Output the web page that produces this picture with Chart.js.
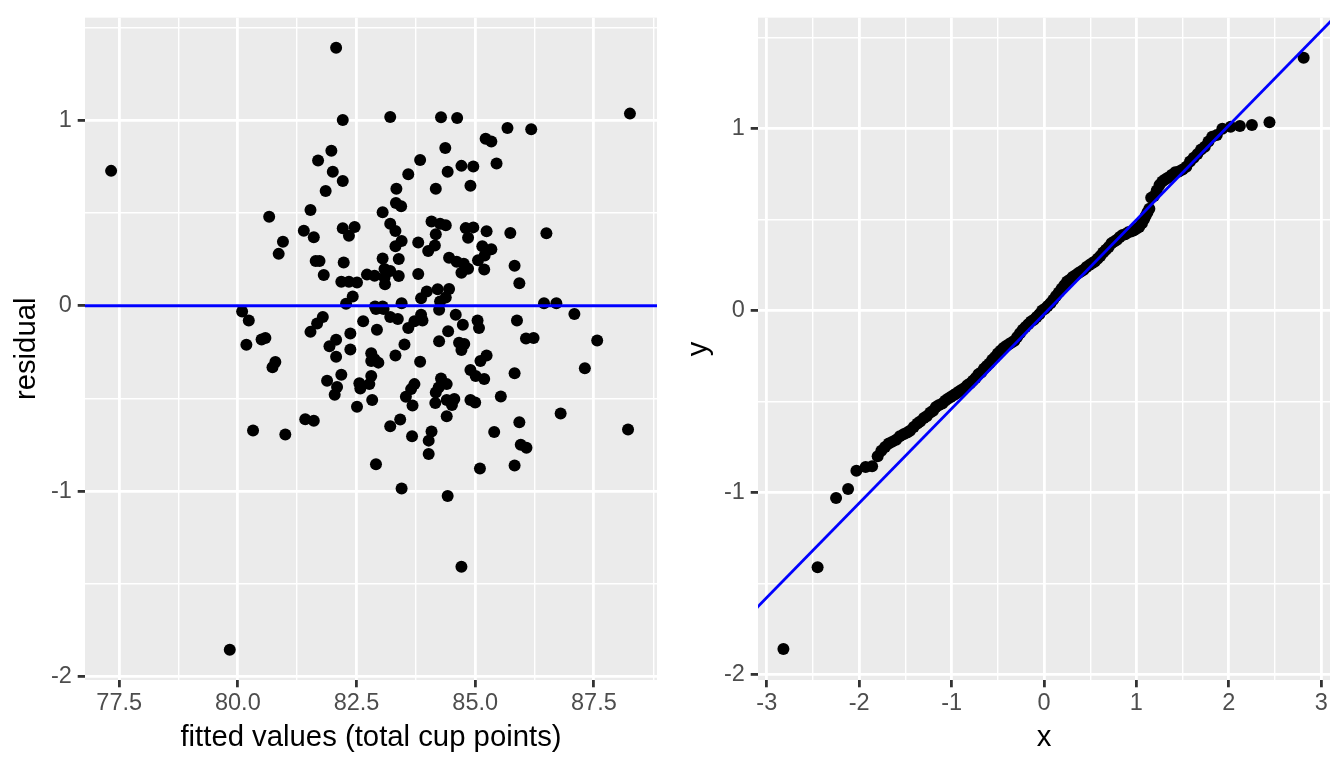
<!DOCTYPE html>
<html>
<head>
<meta charset="utf-8">
<script src="https://cdn.jsdelivr.net/npm/chart.js@4.4.1/dist/chart.umd.min.js"></script>
<style>
  body { margin: 0; background: #ffffff; }
  #wrap { position: relative; width: 1344px; height: 768px; }
  canvas { position: absolute; top: 0; }
  #canvasResid { left: 0; }
  #canvasQQ { left: 672px; }
</style>
</head>
<body>
<div id="wrap">
  <canvas id="canvasResid" width="672" height="768"></canvas>
  <canvas id="canvasQQ" width="672" height="768"></canvas>
</div>
<script>
// residuals vs fitted
var fittedValues = [
  82.07, 82.21, 77.33, 81.97, 81.69, 82.00, 82.21, 81.85, 81.53, 80.66,
  81.39, 81.60, 82.21, 82.46, 82.34, 80.95, 80.86, 81.64, 81.72, 82.23,
  81.81, 82.72, 82.18, 82.34, 82.51, 82.88, 82.42, 82.28, 82.89, 80.09,
  83.21, 84.28, 84.62, 88.26, 85.68, 86.18, 85.22, 85.34, 84.37, 83.84,
  84.71, 84.96, 85.45, 83.59, 84.42, 83.34, 84.17, 84.90, 83.33, 83.44,
  83.05, 83.21, 83.32, 84.08, 84.26, 84.38, 84.80, 84.96, 85.24, 85.74,
  86.50, 84.17, 84.85, 83.45, 83.32, 83.80, 84.15, 84.01, 85.15, 85.34,
  83.05, 83.39, 84.45, 84.61, 84.76, 85.06, 85.20, 84.85, 84.71, 85.19,
  85.83, 83.09, 83.21, 83.09, 83.10, 83.39, 83.80, 85.93, 83.98, 84.21,
  84.45, 83.86, 84.38, 84.26, 83.45, 83.05, 86.45, 86.71,
  80.23, 81.79, 81.67, 81.53, 82.64, 82.37, 80.50, 80.58, 80.18, 82.07,
  81.93, 82.37, 82.07, 80.79, 80.73, 82.18, 81.88, 82.56, 82.58, 82.09,
  82.04, 82.51, 81.42, 81.60, 80.32, 81.00,
  82.91, 83.07, 84.24, 83.21, 83.37, 83.86, 83.89, 83.72, 83.59, 84.59,
  84.74, 85.05, 85.08, 85.88, 87.09, 82.93, 84.43, 86.07, 86.23, 87.57,
  84.24, 83.51, 84.66, 84.77, 84.71, 82.81, 82.88, 82.96, 82.81, 83.32,
  83.84, 85.24, 85.11, 87.31, 84.90, 85.01, 85.19, 85.83, 82.81, 82.77,
  84.28, 84.40, 84.23, 84.17, 83.72, 83.65, 83.54, 83.68, 82.83, 84.16,
  84.40, 84.56, 84.51, 84.90, 85.00, 85.54, 86.80, 84.40, 83.42, 83.21,
  85.93, 84.08, 84.02, 83.67, 85.40, 88.22, 85.96, 86.08, 84.02, 82.91,
  85.10, 85.83, 83.45, 84.42, 84.71, 79.83
];
var residuals = [
  1.393, 1.003, 0.728, 0.836, 0.784, 0.723, 0.673, 0.619, 0.517, 0.480,
  0.405, 0.370, 0.418, 0.425, 0.378, 0.346, 0.280, 0.241, 0.241, 0.234,
  0.166, 0.168, 0.129, 0.129, 0.125, 0.162, 0.050, 0.011, -0.004, -0.031,
  1.019, 1.018, 1.014, 1.037, 0.959, 0.953, 0.901, 0.887, 0.852, 0.787,
  0.755, 0.751, 0.768, 0.710, 0.723, 0.632, 0.632, 0.648, 0.555, 0.537,
  0.505, 0.442, 0.403, 0.455, 0.442, 0.434, 0.419, 0.423, 0.402, 0.393,
  0.391, 0.386, 0.367, 0.350, 0.321, 0.341, 0.325, 0.295, 0.321, 0.305,
  0.255, 0.252, 0.259, 0.237, 0.227, 0.246, 0.271, 0.200, 0.178, 0.196,
  0.216, 0.198, 0.187, 0.152, 0.116, 0.161, 0.171, 0.121, 0.077, 0.089,
  0.091, 0.041, 0.044, 0.023, 0.014, -0.004, 0.014, 0.014,
  -0.080, -0.061, -0.096, -0.141, -0.084, -0.150, -0.182, -0.174, -0.211, -0.184,
  -0.218, -0.236, -0.275, -0.304, -0.332, -0.372, -0.405, -0.418, -0.447, -0.438,
  -0.480, -0.545, -0.613, -0.621, -0.673, -0.695,
  -0.018, -0.018, -0.021, -0.061, -0.072, -0.048, -0.080, -0.084, -0.120, -0.048,
  -0.102, -0.080, -0.120, -0.079, -0.045, -0.129, -0.138, -0.177, -0.174, -0.187,
  -0.191, -0.209, -0.200, -0.206, -0.239, -0.257, -0.289, -0.307, -0.298, -0.268,
  -0.302, -0.268, -0.298, -0.337, -0.347, -0.379, -0.396, -0.364, -0.379, -0.423,
  -0.393, -0.423, -0.441, -0.468, -0.423, -0.450, -0.491, -0.539, -0.509, -0.525,
  -0.509, -0.503, -0.536, -0.509, -0.522, -0.490, -0.581, -0.597, -0.614, -0.650,
  -0.629, -0.679, -0.728, -0.704, -0.682, -0.668, -0.750, -0.766, -0.800, -0.855,
  -0.878, -0.862, -0.986, -1.027, -1.409, -1.857
];

// normal QQ plot
var qqTheoretical = [
  -2.82, -2.45, -2.25, -2.12, -2.03, -1.93, -1.86,
  -1.80, -1.76, -1.72, -1.68, -1.64, -1.60, -1.56, -1.52, -1.48,
  -1.45, -1.41, -1.37, -1.34, -1.30, -1.27, -1.23, -1.20, -1.17, -1.14,
  -1.10, -1.07, -1.04, -1.01, -0.98, -0.95, -0.92, -0.89, -0.86, -0.83,
  -0.80, -0.77, -0.74, -0.71, -0.68, -0.65, -0.62, -0.59, -0.56, -0.53,
  -0.50, -0.47, -0.44, -0.41, -0.38, -0.35, -0.32, -0.29, -0.26, -0.23,
  -0.20, -0.17, -0.14, -0.11, -0.08, -0.05, -0.02, 0.01, 0.04, 0.07,
  0.10, 0.13, 0.16, 0.19, 0.22, 0.25, 0.28, 0.31, 0.34, 0.37,
  0.40, 0.43, 0.46, 0.49, 0.52, 0.55, 0.58, 0.61, 0.64, 0.67,
  0.70, 0.73, 0.76, 0.79, 0.82, 0.85, 0.88, 0.91, 0.94, 0.97,
  1.00, 1.03, 1.06, 1.08, 1.10, 1.12, 1.14, 1.16, 1.19, 1.22,
  1.25, 1.28, 1.31, 1.34, 1.38, 1.42, 1.46, 1.50, 1.54, 1.58,
  1.62, 1.66, 1.70, 1.74, 1.78, 1.82, 1.87, 1.93, 2.02, 2.12,
  2.25, 2.44, 2.81
];
var qqSample = [
  -1.86, -1.41, -1.03, -0.98, -0.88, -0.86, -0.855,
  -0.80, -0.77, -0.75, -0.73, -0.72, -0.71, -0.69, -0.68, -0.67,
  -0.66, -0.64, -0.62, -0.61, -0.59, -0.58, -0.56, -0.55, -0.53, -0.52,
  -0.51, -0.495, -0.485, -0.475, -0.465, -0.455, -0.445, -0.435, -0.425, -0.41,
  -0.40, -0.385, -0.37, -0.35, -0.34, -0.32, -0.305, -0.29, -0.27, -0.255,
  -0.235, -0.22, -0.205, -0.195, -0.185, -0.175, -0.165, -0.145, -0.125, -0.105,
  -0.09, -0.075, -0.06, -0.05, -0.035, -0.02, 0.00, 0.01, 0.025, 0.04,
  0.06, 0.08, 0.10, 0.12, 0.14, 0.16, 0.17, 0.185, 0.195, 0.205,
  0.215, 0.225, 0.24, 0.25, 0.26, 0.27, 0.285, 0.30, 0.32, 0.335,
  0.35, 0.37, 0.38, 0.39, 0.405, 0.415, 0.42, 0.43, 0.435, 0.44,
  0.45, 0.46, 0.48, 0.50, 0.52, 0.54, 0.56, 0.62, 0.63, 0.66,
  0.69, 0.71, 0.72, 0.73, 0.745, 0.76, 0.765, 0.775, 0.79, 0.82,
  0.84, 0.86, 0.885, 0.90, 0.93, 0.955, 0.965, 1.00, 1.01, 1.015,
  1.02, 1.035, 1.39
];

// reference lines
var zeroLineX = [76, 90];
var zeroLineY = [0, 0];
var qqLineX = [-3.2, 3.2];
var qqLineY = [-1.68, 1.64];

// tick positions (major + minor grid)
var residXTicks = [77.5, 78.75, 80, 81.25, 82.5, 83.75, 85, 86.25, 87.5, 88.75];
var residYTicks = [-2, -1.5, -1, -0.5, 0, 0.5, 1, 1.5];
var qqXTicks = [-3, -2.5, -2, -1.5, -1, -0.5, 0, 0.5, 1, 1.5, 2, 2.5, 3];
var qqYTicks = [-2, -1.5, -1, -0.5, 0, 0.5, 1, 1.5];

var FONT = '"Liberation Sans", Arial, Helvetica, sans-serif';

function toPoints(xs, ys) {
    var pts = [];
    for (var i = 0; i < xs.length; i++) {
        pts.push({x: xs[i], y: ys[i]});
    }
    return pts;
}

function isMajor(v, step) {
    var r = v / step;
    return Math.abs(r - Math.round(r)) < 1e-6;
}

var panelBg = {
    id: 'panelBg',
    beforeDraw: function(chart) {
        var a = chart.chartArea;
        var ctx = chart.ctx;
        ctx.save();
        ctx.fillStyle = '#EBEBEB';
        ctx.fillRect(a.left, a.top, a.right - a.left, a.bottom - a.top);
        ctx.restore();
    }
};

function makeAxis(axis, tickList, step, min, max, title, fmt, size) {
    return {
        type: 'linear',
        min: min,
        max: max,
        afterBuildTicks: function(scale) {
            scale.ticks = tickList.map(function(v) { return {value: v}; });
        },
        afterFit: function(scale) {
            if (axis === 'x') scale.height = size; else scale.width = size;
        },
        border: {display: false},
        grid: {
            color: '#FFFFFF',
            lineWidth: function(c) { return isMajor(c.tick.value, step) ? 2.8 : 1.4; },
            drawTicks: true,
            tickLength: 7.3,
            tickWidth: 2.8,
            tickColor: function(c) { return isMajor(c.tick.value, step) ? '#333333' : 'rgba(0,0,0,0)'; }
        },
        ticks: {
            autoSkip: false,
            maxRotation: 0,
            minRotation: 0,
            padding: axis === 'x' ? 4 : 5.9,
            color: '#4D4D4D',
            font: {family: FONT, size: 23.5, lineHeight: 1},
            callback: function(v) { return isMajor(v, step) ? fmt(v) : ''; }
        },
        title: {
            display: true,
            text: title,
            color: '#000000',
            font: {family: FONT, size: 29.3},
            padding: axis === 'x' ? {top: 0, bottom: 12.4} : {top: 9.6, bottom: 0}
        }
    };
}

function scatterPanel(id, pts, linePts, xAxis, yAxis, padRight) {
    var ctx = document.getElementById(id).getContext('2d');
    return new Chart(ctx, {
        type: 'scatter',
        data: {
            datasets: [
                {
                    data: linePts,
                    showLine: true,
                    borderColor: '#0000FF',
                    borderWidth: 2.8,
                    pointRadius: 0,
                    pointHoverRadius: 0,
                    fill: false,
                    order: 1
                },
                {
                    data: pts,
                    backgroundColor: '#000000',
                    borderWidth: 0,
                    pointRadius: 6,
                    pointHoverRadius: 6,
                    order: 2
                }
            ]
        },
        options: {
            responsive: false,
            animation: false,
            devicePixelRatio: 1,
            layout: {padding: {left: 0, right: padRight, top: 14, bottom: 0}},
            plugins: {legend: {display: false}, tooltip: {enabled: false}},
            scales: {x: xAxis, y: yAxis}
        },
        plugins: [panelBg]
    });
}

scatterPanel('canvasResid',
    toPoints(fittedValues, residuals),
    toPoints(zeroLineX, zeroLineY),
    makeAxis('x', residXTicks, 2.5, 76.78, 88.83, 'fitted values (total cup points)',
        function(v) { return v.toFixed(1); }, 88),
    makeAxis('y', residYTicks, 1, -2.02, 1.555, 'residual',
        function(v) { return String(v); }, 85),
    15);

scatterPanel('canvasQQ',
    toPoints(qqTheoretical, qqSample),
    toPoints(qqLineX, qqLineY),
    makeAxis('x', qqXTicks, 1, -3.095, 3.095, 'x',
        function(v) { return String(v); }, 88),
    makeAxis('y', qqYTicks, 1, -2.03, 1.61, 'y',
        function(v) { return String(v); }, 86),
    14);
</script>
</body>
</html>
